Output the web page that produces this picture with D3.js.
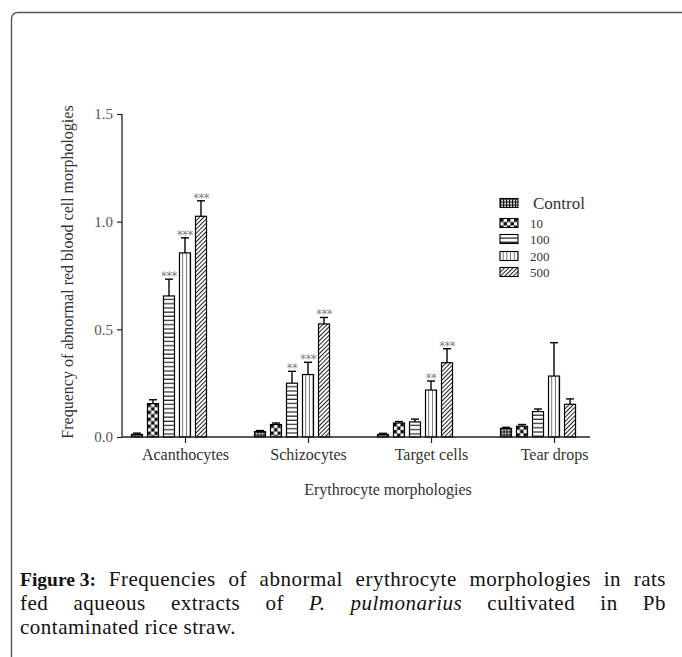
<!DOCTYPE html>
<html>
<head>
<meta charset="utf-8">
<script src="https://cdn.jsdelivr.net/npm/d3@7"></script>
<style>
  html, body { margin: 0; padding: 0; background: #fff; }
  svg { display: block; }
</style>
</head>
<body>
<svg id="chart" width="682" height="657" font-family="Liberation Serif, Times New Roman, serif"></svg>
<script>
// ---- data ----
const categories = ["Acanthocytes", "Schizocytes", "Target cells", "Tear drops"];
const seriesNames = ["Control", "10", "100", "200", "500"];
const controlValues = [0.012, 0.025, 0.012, 0.040];
const dose10Values  = [0.155, 0.058, 0.065, 0.050];
const dose100Values = [0.655, 0.250, 0.070, 0.118];
const dose200Values = [0.855, 0.290, 0.218, 0.283];
const dose500Values = [1.025, 0.525, 0.345, 0.152];
const controlErrors = [0.006, 0.005, 0.005, 0.005];
const dose10Errors  = [0.018, 0.007, 0.007, 0.008];
const dose100Errors = [0.078, 0.055, 0.013, 0.012];
const dose200Errors = [0.070, 0.057, 0.042, 0.155];
const dose500Errors = [0.072, 0.030, 0.065, 0.025];
const controlStars = ["", "", "", ""];
const dose10Stars  = ["", "", "", ""];
const dose100Stars = ["***", "**", "", ""];
const dose200Stars = ["***", "***", "**", ""];
const dose500Stars = ["***", "***", "***", ""];
const yTicks = [0.0, 0.5, 1.0, 1.5];
const yTitle = "Frequency of abnormal red blood cell morphologies";
const xTitle = "Erythrocyte morphologies";

const valuesBySeries = [controlValues, dose10Values, dose100Values, dose200Values, dose500Values];
const errorsBySeries = [controlErrors, dose10Errors, dose100Errors, dose200Errors, dose500Errors];
const starsBySeries  = [controlStars, dose10Stars, dose100Stars, dose200Stars, dose500Stars];

const rows = [];
seriesNames.forEach((s, si) => categories.forEach((c, ci) => rows.push({
  series: s, si, category: c,
  value: valuesBySeries[si][ci], err: errorsBySeries[si][ci], star: starsBySeries[si][ci]
})));

const svg = d3.select("#chart");

// ---- frame ----
svg.append("path")
  .attr("d", "M11.5,660 L11.5,19 Q11.5,12.5 18,12.5 L690,12.5")
  .attr("fill", "none").attr("stroke", "#555").attr("stroke-width", 1.4);

// ---- patterns ----
const defs = svg.append("defs");
function pat(id, w, h) {
  return defs.append("pattern").attr("id", id).attr("patternUnits", "userSpaceOnUse")
    .attr("width", w).attr("height", h);
}
// Control: fine grid
let p = pat("p0", 3, 3);
p.append("rect").attr("width", 3).attr("height", 3).attr("fill", "#fff");
p.append("rect").attr("width", 3).attr("height", 1.2).attr("fill", "#111");
p.append("rect").attr("width", 1.2).attr("height", 3).attr("fill", "#111");
// 10: checkerboard
p = pat("p1", 7, 7);
p.append("rect").attr("width", 7).attr("height", 7).attr("fill", "#fff");
p.append("rect").attr("width", 3.5).attr("height", 3.5).attr("fill", "#111");
p.append("rect").attr("x", 3.5).attr("y", 3.5).attr("width", 3.5).attr("height", 3.5).attr("fill", "#111");
// 100: horizontal lines
p = pat("p2", 4, 4.2);
p.append("rect").attr("width", 4).attr("height", 4.2).attr("fill", "#fff");
p.append("rect").attr("y", 3).attr("width", 4).attr("height", 1.1).attr("fill", "#111");
// 200: vertical lines
p = pat("p3", 3.67, 4);
p.append("rect").attr("width", 3.67).attr("height", 4).attr("fill", "#fff");
p.append("rect").attr("x", 3.1).attr("width", 0.9).attr("height", 4).attr("fill", "#111");
// 500: diagonal hatch
p = pat("p4", 3, 3).attr("patternTransform", "rotate(45)");
p.append("rect").attr("width", 3).attr("height", 3).attr("fill", "#fff");
p.append("rect").attr("width", 1).attr("height", 3).attr("fill", "#222");

// ---- scales ----
const y = d3.scaleLinear().domain([0, 1.5]).range([437, 114]);
const xGroup = d3.scaleBand().domain(categories).range([122, 585]).paddingInner(0.39).paddingOuter(0.077);
const xSeries = d3.scaleBand().domain(seriesNames).range([0, xGroup.bandwidth()]).paddingInner(0.3125);
const bw = xSeries.bandwidth();
const tickPos = c => xGroup(c) + xSeries("200") + bw / 2;
const xTick = d3.scalePoint().domain(categories)
  .range([tickPos(categories[0]), tickPos(categories[categories.length - 1])]);

// ---- bars ----
const bars = svg.append("g").selectAll("g").data(rows).join("g")
  .attr("transform", d => `translate(${xGroup(d.category) + xSeries(d.series)},${y(d.value)})`);
bars.append("rect")
  .attr("width", bw)
  .attr("height", d => y(0) - y(d.value))
  .attr("fill", d => `url(#p${d.si})`)
  .attr("stroke", "#000").attr("stroke-width", 1.2);

// error bars
const eb = svg.append("g").attr("stroke", "#000").attr("stroke-width", 1.4);
rows.forEach(d => {
  const cx = xGroup(d.category) + xSeries(d.series) + bw / 2;
  eb.append("line").attr("x1", cx).attr("x2", cx).attr("y1", y(d.value)).attr("y2", y(d.value + d.err));
  eb.append("line").attr("x1", cx - 4).attr("x2", cx + 4).attr("y1", y(d.value + d.err)).attr("y2", y(d.value + d.err));
});
// stars
svg.append("g").selectAll("text").data(rows.filter(d => d.star)).join("text")
  .attr("x", d => xGroup(d.category) + xSeries(d.series) + bw / 2)
  .attr("y", d => y(d.value + d.err) + 1)
  .attr("text-anchor", "middle")
  .attr("font-family", "DejaVu Sans, sans-serif")
  .attr("font-size", 11.5).attr("fill", "#808080")
  .attr("letter-spacing", -0.5)
  .text(d => d.star);

// ---- axes ----
const yAxis = svg.append("g").attr("transform", "translate(122,0)")
  .call(d3.axisLeft(y).tickValues(yTicks).tickFormat(d3.format(".1f")).tickSize(5).tickPadding(4));
yAxis.select(".domain").attr("stroke", "#222").attr("stroke-width", 1.3).attr("d", `M0,${y(1.5)}V${y(0)}`);
yAxis.selectAll(".tick line").attr("stroke", "#222").attr("stroke-width", 1.2);
yAxis.selectAll(".tick text").attr("font-family", "Liberation Serif, serif").attr("font-size", 15).attr("fill", "#555");

const xAxis = svg.append("g").attr("transform", `translate(0,${y(0)})`)
  .call(d3.axisBottom(xTick).tickSize(6).tickPadding(6));
xAxis.select(".domain").attr("stroke", "#222").attr("stroke-width", 1.3).attr("d", "M122,0H590");
xAxis.selectAll(".tick line").attr("stroke", "#222").attr("stroke-width", 1.2);
xAxis.selectAll(".tick text").attr("font-family", "Liberation Serif, serif").attr("font-size", 16).attr("fill", "#333");

svg.append("text").attr("x", 388).attr("y", 495).attr("text-anchor", "middle")
  .attr("font-size", 16).attr("fill", "#333").text(xTitle);
svg.append("text").attr("transform", "translate(73,272) rotate(-90)").attr("text-anchor", "middle")
  .attr("font-size", 16).attr("fill", "#333").text(yTitle);

// ---- legend ----
const legendY = [203, 223, 239, 256, 272];
const lg = svg.append("g").selectAll("g").data(seriesNames).join("g")
  .attr("transform", (d, i) => `translate(500,${legendY[i]})`);
lg.append("g").attr("transform", "translate(0,-4.5)").append("rect")
  .attr("width", 18).attr("height", 9)
  .attr("fill", (d, i) => `url(#p${i})`).attr("stroke", "#000").attr("stroke-width", 1.1);
lg.append("text").attr("x", (d, i) => i === 0 ? 33 : 30).attr("y", (d, i) => i === 0 ? 5.5 : 4.5)
  .attr("font-size", (d, i) => i === 0 ? 17 : 13).attr("fill", "#333").text(d => d);

// ---- caption ----
const capLines = [
  { y: 586, justify: true, words: [["Figure 3:", "bold"], ["Frequencies"], ["of"], ["abnormal"], ["erythrocyte"], ["morphologies"], ["in"], ["rats"]] },
  { y: 610, justify: true, words: [["fed"], ["aqueous"], ["extracts"], ["of"], ["P.", "italic"], ["pulmonarius", "italic"], ["cultivated"], ["in"], ["Pb"]] },
  { y: 634, justify: false, words: [["contaminated"], ["rice"], ["straw."]] }
];
const capLeft = 20, capRight = 666;
const cap = svg.append("g").attr("font-size", 21).attr("fill", "#111");
capLines.forEach(line => {
  const els = line.words.map(([w, st]) => {
    const t = cap.append("text").attr("y", line.y).attr("letter-spacing", 0.5).text(w);
    if (st === "bold") t.attr("font-weight", "bold").attr("font-size", 19.5).attr("letter-spacing", 0);
    if (st === "italic") t.attr("font-style", "italic");
    return t;
  });
  const widths = els.map(e => e.node().getComputedTextLength());
  const total = d3.sum(widths);
  const gap = line.justify ? (capRight - capLeft - total) / (els.length - 1) : 5.5;
  let x = capLeft;
  els.forEach((e, i) => { e.attr("x", x); x += widths[i] + gap; });
});
</script>
</body>
</html>
